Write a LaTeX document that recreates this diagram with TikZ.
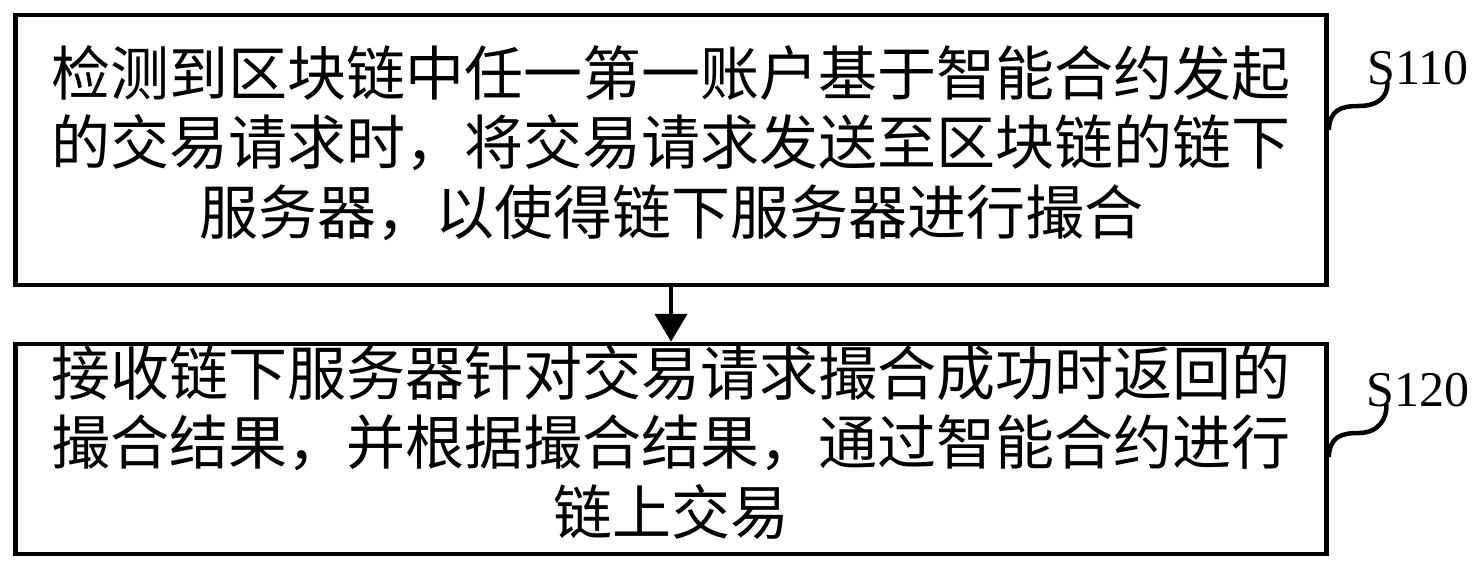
\documentclass[tikz,border=0pt]{standalone}
\usepackage{fontspec}
\setmainfont{Liberation Serif}
\newfontfamily\cjk{Noto Sans CJK SC}
\usetikzlibrary{arrows.meta,calc}
\begin{document}
\begin{tikzpicture}[x=1pt,y=-1pt,
  stepbox/.style={draw, line width=4.5pt, rectangle, minimum width=1311pt, inner sep=0pt},
  steptext/.style={inner sep=0pt, align=center, font=\cjk\fontsize{59}{69.5}\selectfont},
  steplabel/.style={font=\fontsize{50}{50}\selectfont, inner sep=0pt},
  wave/.style={line width=4.5pt},
  flow/.style={line width=4.5pt, -{Triangle[width=32pt,length=28pt]}}]
\useasboundingbox (0,0) rectangle (1482,572);
\node[stepbox, minimum height=269.5pt] (b1) at (671,150) {};
\node[steptext] (t1) at ([yshift=7pt]b1.center) {检测到区块链中任一第一账户基于智能合约发起\\的交易请求时，将交易请求发送至区块链的链下\\服务器，以使得链下服务器进行撮合};
\node[stepbox, minimum height=210pt] (b2) at (671,449) {};
\node[steptext] (t2) at ([yshift=7pt]b2.center) {接收链下服务器针对交易请求撮合成功时返回的\\撮合结果，并根据撮合结果，通过智能合约进行\\链上交易};
\draw[flow] (b1) -- (b2);
\node[steplabel] (s1) at (1418,68) {S110};
\node[steplabel] (s2) at (1418,390) {S120};
\coordinate (w1s) at ([yshift=20pt]b1.east);
\coordinate (w1e) at ([xshift=20pt,yshift=3pt]s1.south west);
\coordinate (w2s) at ([yshift=-8pt]b2.east);
\coordinate (w2e) at ([xshift=20pt,yshift=3pt]s2.south west);
\draw[wave] (w1s) .. controls ($(w1s)+(1,-20)$) and ($(w1s)+(12,-24)$) .. ($(w1s)+(30,-24)$) .. controls ($(w1s)+(50,-24)$) and ($(w1e)+(1,14)$) .. (w1e);
\draw[wave] (w2s) .. controls ($(w2s)+(1,-20)$) and ($(w2s)+(12,-24)$) .. ($(w2s)+(30,-24)$) .. controls ($(w2s)+(50,-24)$) and ($(w2e)+(1,14)$) .. (w2e);
\end{tikzpicture}
\end{document}
